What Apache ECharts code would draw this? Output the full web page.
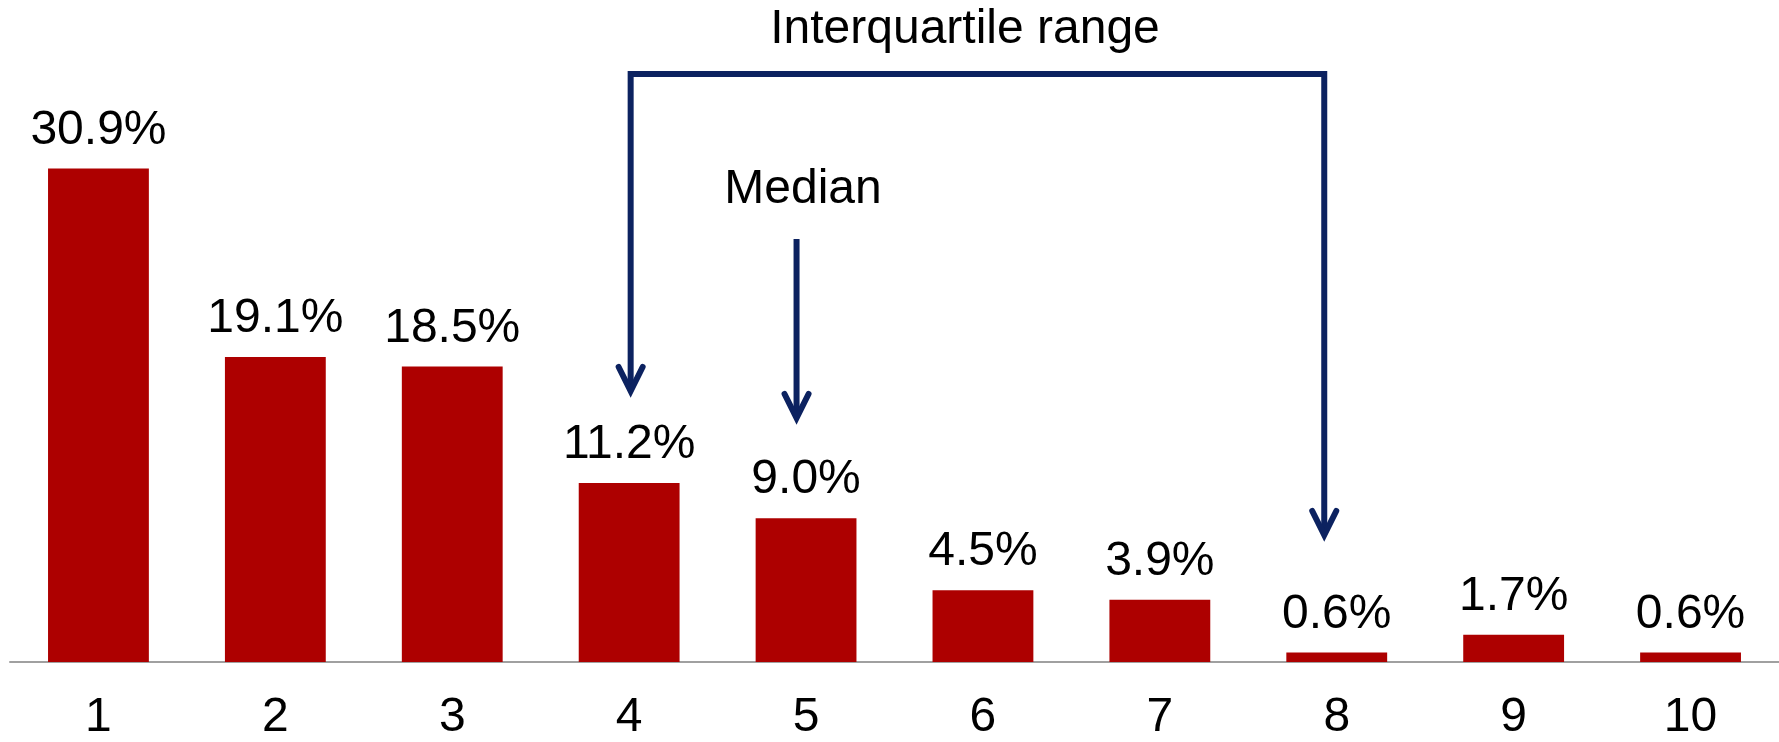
<!DOCTYPE html>
<html><head><meta charset="utf-8">
<script src="https://cdn.jsdelivr.net/npm/echarts@6/dist/echarts.min.js"></script>
<style>html,body{margin:0;padding:0;background:#fff}#c{width:1779px;height:742px}</style>
</head><body><div id="c"></div>
<script>
const categories = ['1','2','3','4','5','6','7','8','9','10'];
const shares = [30.9, 19.1, 18.5, 11.2, 9.0, 4.5, 3.9, 0.6, 1.7, 0.6];
const iqrBounds = ['4', '8'];
const medianCategory = '5';
const iqrText = 'Interquartile range';
const medianText = 'Median';

const FONT = '"Liberation Sans", Arial, sans-serif';
const NAVY = '#0c2260';
const chart = echarts.init(document.getElementById('c'), null, {renderer: 'canvas'});

chart.setOption({
  animation: false,
  backgroundColor: '#ffffff',
  grid: {left: 10, right: 0, top: 103, bottom: 76, containLabel: false},
  xAxis: {
    type: 'category', data: categories,
    axisLine: {show: true, lineStyle: {color: '#a0a0a0', width: 2}},
    axisTick: {show: false},
    axisLabel: {color: '#000', fontSize: 48, fontFamily: FONT, margin: 32}
  },
  yAxis: {
    type: 'value', min: 0, max: 35, show: false,
    splitLine: {show: false}
  },
  series: [{
    type: 'bar', data: shares, barCategoryGap: '43%',
    itemStyle: {color: '#ad0000'},
    label: {
      show: true, position: 'top', distance: 14,
      color: '#000', fontSize: 48, fontFamily: FONT,
      formatter: p => p.value.toFixed(1) + '%'
    }
  }]
});

function px(cat) { return chart.convertToPixel({xAxisIndex: 0}, cat); }

const xL = px(iqrBounds[0]) + 1.5;
const xR = px(iqrBounds[1]) - 12.5;
const xM = px(medianCategory) - 9.5;
const topY = 74;
const tipL = 391, tipR = 535, tipM = 418;
const lw = 6;

function head(x, tip) {
  return {
    type: 'polyline',
    shape: {points: [[x - 12, tip - 24], [x, tip], [x + 12, tip - 24]]},
    style: {stroke: NAVY, lineWidth: lw, fill: null, lineCap: 'round', lineJoin: 'miter'}
  };
}

chart.setOption({
  graphic: [
    {type: 'polyline',
     shape: {points: [[xL, tipL - 4], [xL, topY], [xR, topY], [xR, tipR - 4]]},
     style: {stroke: NAVY, lineWidth: lw, fill: null, lineJoin: 'miter'}},
    head(xL, tipL),
    head(xR, tipR),
    {type: 'line', shape: {x1: xM, y1: 239, x2: xM, y2: tipM - 4},
     style: {stroke: NAVY, lineWidth: lw}},
    head(xM, tipM),
    {type: 'text', x: 965, y: 29.5,
     style: {text: iqrText, fontSize: 48, fontFamily: FONT, fill: '#000', align: 'center', verticalAlign: 'middle'}},
    {type: 'text', x: 803, y: 190,
     style: {text: medianText, fontSize: 48, fontFamily: FONT, fill: '#000', align: 'center', verticalAlign: 'middle'}}
  ]
});
</script></body></html>
